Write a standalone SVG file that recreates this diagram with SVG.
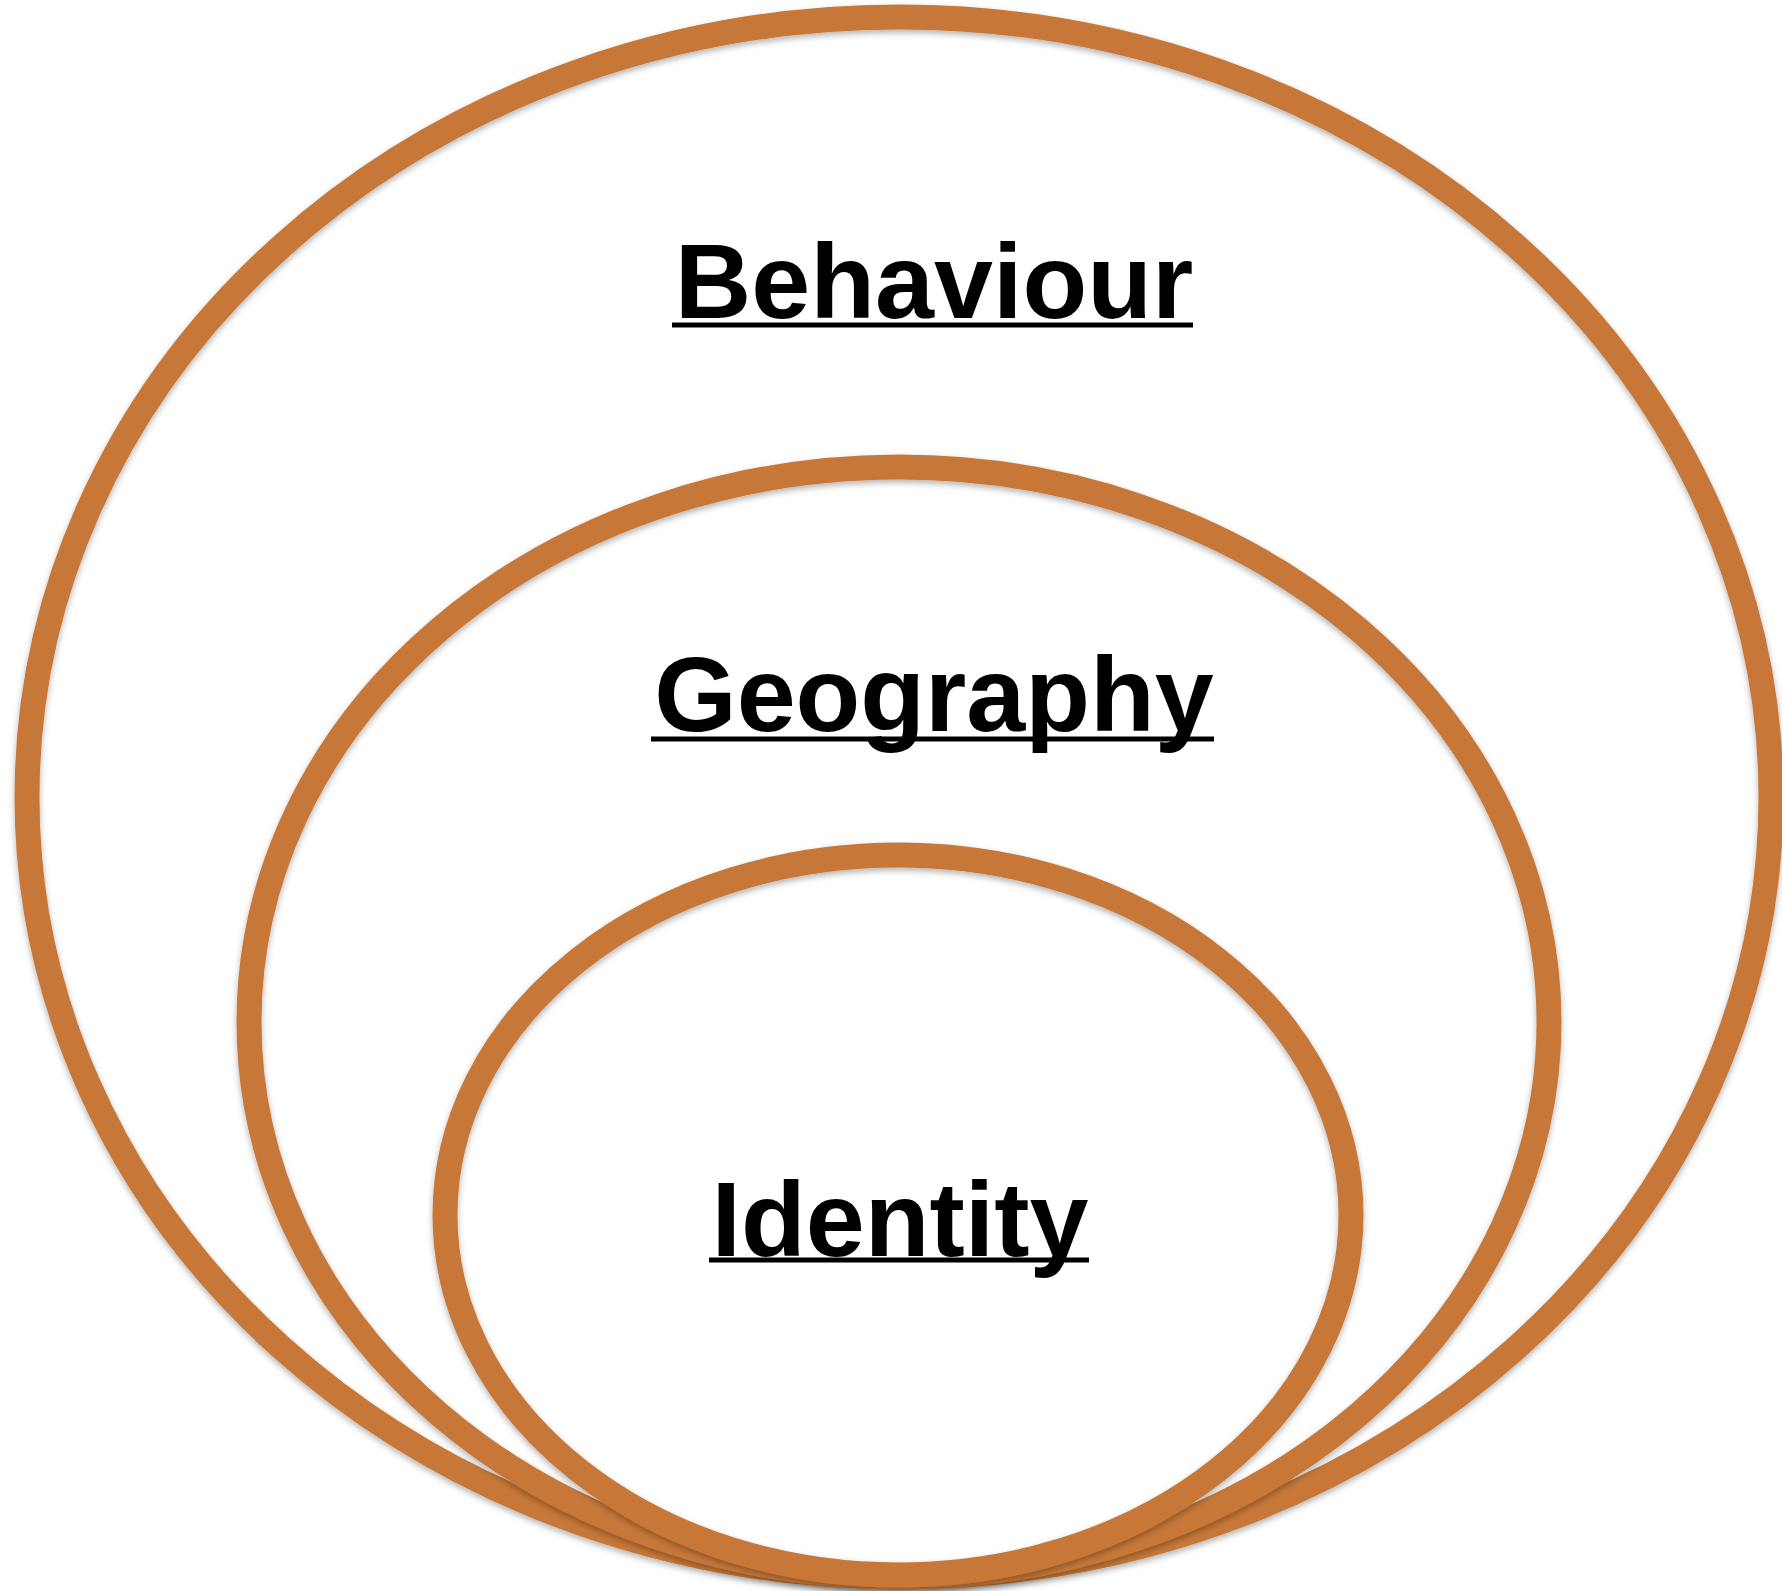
<svg xmlns="http://www.w3.org/2000/svg" width="1782" height="1591" viewBox="0 0 1782 1591">
<style>
.ring{fill:none;stroke:#C77839;stroke-width:25;filter:url(#sh)}
.lbl{font-family:"Liberation Sans",Arial,sans-serif;font-weight:bold;font-size:106px;fill:#000;text-anchor:middle}
.ul{stroke:#000;stroke-width:5}
</style>
<defs>
<filter id="sh" x="-5%" y="-5%" width="110%" height="110%">
<feDropShadow dx="0" dy="3" stdDeviation="3" flood-color="#000" flood-opacity="0.3"/>
</filter>
</defs>
<rect width="1782" height="1591" fill="#fff"/>
<g id="behaviour">
<ellipse class="ring" cx="899" cy="797" rx="872" ry="780"/>
<text class="lbl" x="934" y="318">Behaviour</text>
<line class="ul" x1="672" y1="325" x2="1193" y2="325"/>
</g>
<g id="geography">
<ellipse class="ring" cx="899" cy="1022" rx="650" ry="555"/>
<text class="lbl" x="934" y="731">Geography</text>
<line class="ul" x1="651" y1="739" x2="1214" y2="739"/>
</g>
<g id="identity">
<ellipse class="ring" cx="898" cy="1215" rx="453" ry="360"/>
<text class="lbl" x="900" y="1256">Identity</text>
<line class="ul" x1="709" y1="1260" x2="1089" y2="1260"/>
</g>
<g id="connectors"/>
</svg>
